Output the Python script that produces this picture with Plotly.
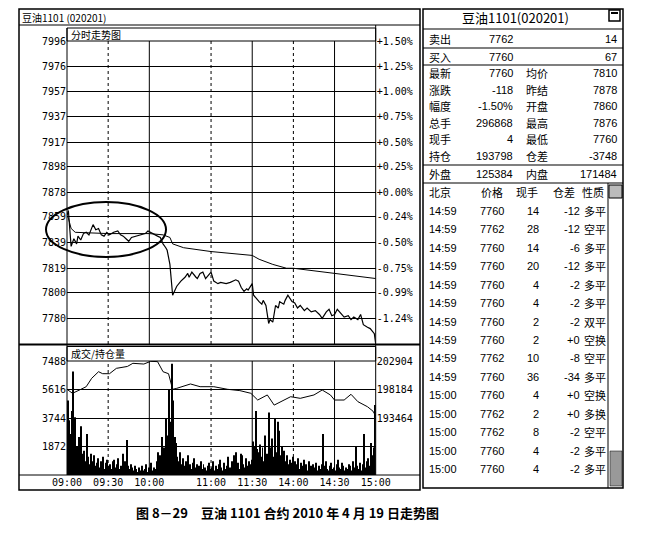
import plotly.graph_objects as go

W, H = 645, 533
# the page puts the figure 8px in from the corner, pull everything back by that much
OFF = 8
CJK = "Noto Sans CJK SC"
NUM = "Liberation Sans"
MONO = "DejaVu Sans Mono"

# price line (clock time, price)
price_times = ["09:00", "09:01", "09:02", "09:03", "09:05", "09:07", "09:08", "09:10", "09:12", "09:14",
               "09:16", "09:19", "09:21", "09:23", "09:25", "09:27", "09:29", "09:31", "09:34", "09:37",
               "09:39", "09:41", "09:43", "09:45", "09:47", "09:50", "09:53", "09:57", "09:59", "10:02",
               "10:06", "10:08", "10:10", "10:12", "10:13", "10:15", "10:32", "10:35", "10:38", "10:41",
               "10:43", "10:44", "10:46", "10:49", "10:50", "10:52", "10:54", "10:56", "10:58", "11:00",
               "11:02", "11:05", "11:07", "11:11", "11:14", "11:18", "11:20", "11:22", "11:24", "11:26",
               "11:27", "11:30", "13:31", "13:33", "13:35", "13:37", "13:38", "13:40", "13:42", "13:43",
               "13:45", "13:47", "13:49", "13:50", "13:53", "13:54", "13:56", "13:59", "14:01", "14:03",
               "14:05", "14:08", "14:10", "14:13", "14:16", "14:19", "14:21", "14:24", "14:26", "14:28",
               "14:30", "14:32", "14:35", "14:37", "14:40", "14:42", "14:44", "14:47", "14:49", "14:51",
               "14:54", "14:56", "14:59", "15:00"]
price_vals = [7860, 7864, 7850, 7836, 7842, 7838, 7844, 7841, 7846, 7847,
              7845, 7853, 7849, 7850, 7845, 7844, 7847, 7845, 7847, 7848,
              7845, 7844, 7842, 7840, 7843, 7844, 7845, 7846, 7848, 7846,
              7844, 7843, 7838, 7835, 7833, 7822, 7798, 7805, 7809, 7812,
              7815, 7812, 7816, 7812, 7811, 7815, 7816, 7811, 7814, 7816,
              7809, 7807, 7808, 7807, 7808, 7810, 7809, 7804, 7801, 7803,
              7802, 7807, 7798, 7795, 7793, 7791, 7794, 7790, 7776, 7779,
              7777, 7790, 7788, 7793, 7791, 7794, 7798, 7793, 7792, 7788,
              7790, 7786, 7788, 7785, 7786, 7783, 7780, 7785, 7787, 7782,
              7783, 7787, 7783, 7781, 7782, 7779, 7781, 7779, 7783, 7775,
              7773, 7772, 7768, 7760]

avg_times = ["09:00", "09:01", "09:03", "09:06", "09:30", "10:00", "10:10", "10:15", "10:32", "10:40",
             "11:00", "11:20", "11:30", "13:35", "13:45", "13:55", "14:00", "14:30", "15:00"]
avg_vals = [7860, 7858, 7850, 7847, 7846, 7846, 7845, 7843, 7838, 7835,
            7832, 7830, 7829, 7826, 7822, 7819, 7819, 7815, 7811]

oi_times = ["09:00", "09:04", "09:10", "09:14", "09:18", "09:23", "09:26", "09:31", "09:36", "09:44",
            "09:48", "09:56", "10:01", "10:06", "10:10", "10:14", "10:32", "10:35", "10:45", "10:52",
            "11:02", "11:12", "11:21", "11:29", "13:34", "13:41", "13:46", "13:51", "13:58", "14:05",
            "14:15", "14:21", "14:27", "14:30", "14:37", "14:42", "14:47", "14:54", "14:58", "15:00"]
oi_vals = [198217, 197555, 198200, 198650, 200040, 201130, 200800, 200800, 201690, 202000,
           202520, 202400, 202850, 202800, 201130, 200800, 198217, 198380, 199100, 198650,
           198650, 198217, 198000, 197555, 196440, 197280, 195600, 196170, 196990, 196720,
           197280, 198100, 197280, 196440, 196440, 197390, 196170, 195330, 194600, 193798]

# minute volume, one value per minute of each session
vol_s1 = [4900, 3600, 2700, 4200, 6800, 3800, 1500, 1900, 2500, 1200,
          3200, 1400, 1600, 900, 2700, 1200, 700, 1400, 900, 1300,
          600, 800, 1100, 500, 900, 700, 1200, 400, 800, 1000,
          600, 700, 400, 900, 1000, 500, 700, 1100, 400, 600,
          1400, 500, 900, 2300, 600, 400, 700, 500, 300, 600,
          400, 200, 500, 300, 600, 300, 400, 700, 200, 500,
          400, 800, 300, 500, 400, 900, 1500, 1300, 800, 2500,
          1800, 1200, 3700, 2600, 5600]
vol_s2 = [3500, 7300, 4900, 2500, 2100, 1200, 900, 1500, 700, 1100,
          600, 900, 500, 1300, 700, 400, 800, 1100, 500, 700,
          300, 600, 900, 400, 700, 500, 300, 600, 800, 400,
          500, 900, 300, 600, 400, 700, 1000, 500, 300, 800,
          400, 600, 1200, 500, 400, 900, 1300, 600, 1500, 800,
          400, 1400, 1300, 700, 500, 1100, 600, 900, 700, 1000]
vol_s3 = [2200, 1900, 4200, 1700, 1500, 2000, 1200, 1800, 900, 2600,
          1400, 1000, 4100, 1800, 2400, 1200, 3700, 1500, 3500, 2900,
          1300, 1900, 1100, 1600, 900, 1300, 700, 1000, 800, 1200,
          500, 900, 700, 1100, 400, 800, 600, 1000, 500, 700,
          300, 900, 600, 400, 700, 500, 800, 300, 600, 400,
          700, 2700, 600, 900, 400, 300, 600, 800, 400, 500,
          300, 700, 1000, 500, 400, 800, 600, 300, 500, 400,
          700, 600, 300, 900, 500, 1900, 600, 400, 800, 300,
          700, 2700, 500, 900, 1100, 600, 2100, 1300, 1800, 4600]

x_tick_labels = ["09:00", "09:30", "10:00", "11:00", "11:30", "14:00", "14:30", "15:00"]
solid_grid = ["10:00", "11:30", "14:30"]
dotted_grid = ["09:30", "11:00", "14:00"]
price_ticks = [7996, 7976, 7957, 7937, 7917, 7898, 7878, 7859, 7839, 7819, 7800, 7780]
pct_labels = ["+1.50%", "+1.25%", "+1.00%", "+0.75%", "+0.50%", "+0.25%", "+0.00%",
              "-0.24%", "-0.50%", "-0.75%", "-0.99%", "-1.24%"]
vol_ticks = [1872, 3744, 5616, 7488]
oi_ticks = [193464, 198184, 202904]

# quote box on the right
quote_l_labels = ["卖出", "买入", "最新", "涨跌", "幅度", "总手", "现手", "持仓", "外盘"]
quote_l_vals = ["7762", "7760", "7760", "-118", "-1.50%", "296868", "4", "193798", "125384"]
quote_r_labels = ["", "", "均价", "昨结", "开盘", "最高", "最低", "仓差", "内盘"]
quote_r_vals = ["14", "67", "7810", "7878", "7860", "7876", "7760", "-3748", "171484"]
trade_head = ["北京", "价格", "现手", "仓差", "性质"]
trade_times = ["14:59"] * 10 + ["15:00"] * 5
trade_prices = ["7760", "7762", "7760", "7760", "7760", "7760", "7760", "7760", "7762", "7760",
                "7760", "7762", "7762", "7760", "7760"]
trade_qty = ["14", "28", "14", "20", "4", "4", "2", "2", "10", "36", "4", "2", "8", "4", "4"]
trade_oi = ["-12", "-12", "-6", "-12", "-2", "-2", "-2", "+0", "-8", "-34", "+0", "+0", "-2", "-2", "-2"]
trade_kind = ["多平", "空平", "多平", "多平", "多平", "多平", "双平", "空换", "空平", "多平",
              "空换", "多换", "空平", "多平", "多平"]


def tidx(hhmm):
    # trading minutes since the open: 9:00-10:15, 10:30-11:30, 13:30-15:00
    h, m = map(int, hhmm.split(":"))
    t = h * 60 + m
    if t <= 615:
        return t - 540
    if t <= 690:
        return 75 + t - 630
    return 135 + t - 810


def px(x):
    return (x - OFF) / W


def py(y):
    return 1 - (y - OFF) / H


vol = vol_s1 + vol_s2 + vol_s3
vol_x = [i + 0.5 for i in range(len(vol))]

fig = go.Figure()
fig.add_trace(go.Scatter(x=[tidx(t) for t in price_times], y=price_vals, mode="lines",
                         line=dict(color="black", width=1.2), xaxis="x", yaxis="y", hoverinfo="skip"))
fig.add_trace(go.Scatter(x=[tidx(t) for t in avg_times], y=avg_vals, mode="lines",
                         line=dict(color="black", width=1), xaxis="x", yaxis="y", hoverinfo="skip"))
# invisible copy so the percent axis gets drawn
fig.add_trace(go.Scatter(x=[tidx(t) for t in price_times], y=price_vals, mode="lines",
                         line=dict(width=0), opacity=0, xaxis="x", yaxis="y2", hoverinfo="skip"))
fig.add_trace(go.Bar(x=vol_x, y=vol, width=0.7, marker=dict(color="black", line=dict(width=0)),
                     xaxis="x2", yaxis="y3", hoverinfo="skip"))
fig.add_trace(go.Scatter(x=[tidx(t) for t in oi_times], y=oi_vals, mode="lines",
                         line=dict(color="black", width=1), xaxis="x2", yaxis="y4", hoverinfo="skip"))

xdom = [px(67), px(375.7)]
axfont = dict(family=MONO, size=10, color="black")
common = dict(zeroline=False, ticks="", tickfont=axfont, fixedrange=True, automargin=False)
fig.update_layout(
    width=W, height=H, autosize=False, margin=dict(l=0, r=0, t=0, b=0, pad=0),
    paper_bgcolor="white", plot_bgcolor="white", showlegend=False,
    xaxis=dict(domain=xdom, range=[0, 225], anchor="y", showgrid=False, showticklabels=False, **common),
    yaxis=dict(domain=[py(344), py(41)], range=[7760, 7996], tickvals=price_ticks,
               ticktext=[str(v) for v in price_ticks], showgrid=True, gridcolor="black",
               gridwidth=1, **common),
    yaxis2=dict(overlaying="y", side="right", anchor="x", range=[7760, 7996], tickvals=price_ticks,
                ticktext=pct_labels, showgrid=False, **common),
    xaxis2=dict(domain=xdom, range=[0, 225], anchor="y3", showgrid=False,
                tickvals=[tidx(t) for t in x_tick_labels], ticktext=x_tick_labels, **common),
    yaxis3=dict(domain=[py(475), py(361)], range=[0, 7488], tickvals=vol_ticks,
                ticktext=[str(v) for v in vol_ticks], showgrid=True, gridcolor="black",
                gridwidth=1, **common),
    yaxis4=dict(overlaying="y3", side="right", anchor="x2", range=[184024, 202904], tickvals=oi_ticks,
                ticktext=[str(v) for v in oi_ticks], showgrid=False, **common),
)

# vertical grid lines in both panes
for xr, yr in [("x", "y domain"), ("x2", "y3 domain")]:
    for t in solid_grid:
        fig.add_shape(type="line", xref=xr, yref=yr, x0=tidx(t), x1=tidx(t), y0=0, y1=1,
                      line=dict(color="black", width=1))
    for t in dotted_grid:
        fig.add_shape(type="line", xref=xr, yref=yr, x0=tidx(t), x1=tidx(t), y0=0, y1=1,
                      line=dict(color="black", width=1, dash="dot"))


def box(x0, y0, x1, y1, w=1, fill=None):
    fig.add_shape(type="rect", xref="paper", yref="paper", x0=px(x0), x1=px(x1), y0=py(y1), y1=py(y0),
                  line=dict(color="black", width=w), fillcolor=fill)


def hline(x0, x1, y, w=1):
    fig.add_shape(type="line", xref="paper", yref="paper", x0=px(x0), x1=px(x1), y0=py(y), y1=py(y),
                  line=dict(color="black", width=w))


def vline(x, y0, y1, w=1):
    fig.add_shape(type="line", xref="paper", yref="paper", x0=px(x), x1=px(x), y0=py(y0), y1=py(y1),
                  line=dict(color="black", width=w))


def txt(x, y, s, anchor="left", size=11, family=CJK):
    fig.add_annotation(x=px(x), y=py(y), xref="paper", yref="paper", text=s, showarrow=False,
                       xanchor=anchor, yanchor="middle", borderpad=0,
                       font=dict(family=family, size=size, color="black"))


# frame of the chart panel
box(19, 9, 420, 490, w=1.5)
hline(19, 420, 25)
vline(375.7, 25, 475)
vline(67, 28, 475)
box(67, 28, 375.7, 41)
hline(19, 420, 344.5, w=2)
box(67, 346.5, 375.7, 361)
hline(19, 420, 475)
txt(21, 17, "豆油1101 (020201)", size=10)
txt(70, 34.5, "分时走势图", size=10)
txt(70, 353.5, "成交/持仓量", size=10)

# hand drawn ellipse around the morning range
fig.add_shape(type="circle", xref="paper", yref="paper", x0=px(46), x1=px(166), y0=py(257), y1=py(202),
              line=dict(color="black", width=2))

# quote box
box(423, 9, 623, 488, w=1.5)
txt(515, 17, "豆油1101(020201)", anchor="center", size=13)
box(609, 10, 620, 21, w=1.5)
hline(611, 618, 13, w=2)
for y in [29, 48, 65, 165, 183]:
    hline(423, 623, y, w=1.2)
vline(608, 183, 488)
box(609, 185, 622, 198, fill="#bbbbbb")
box(610, 451, 622, 486, w=0.5, fill="#999999")

row_y = [39, 57, 73, 90, 106, 123, 139, 156, 174]
for y, a, b, c, d in zip(row_y, quote_l_labels, quote_l_vals, quote_r_labels, quote_r_vals):
    txt(428, y, a)
    txt(514, y, b, anchor="right", family=NUM)
    if c:
        txt(525, y, c)
    txt(618, y, d, anchor="right", family=NUM)

txt(428, 192, trade_head[0])
txt(492, 192, trade_head[1], anchor="center")
txt(527, 192, trade_head[2], anchor="center")
txt(564, 192, trade_head[3], anchor="center")
txt(593, 192, trade_head[4], anchor="center")
for i in range(len(trade_times)):
    y = 211 + i * 18.43
    txt(428, y, trade_times[i], family=NUM)
    txt(492, y, trade_prices[i], anchor="center", family=NUM)
    txt(540, y, trade_qty[i], anchor="right", family=NUM)
    txt(581, y, trade_oi[i], anchor="right", family=NUM)
    txt(583, y, trade_kind[i])

# caption
txt(287, 512, "<b>图 8－29\u3000豆油 1101 合约 2010 年 4 月 19 日走势图</b>", anchor="center", size=13)

fig.write_html("out.html")
